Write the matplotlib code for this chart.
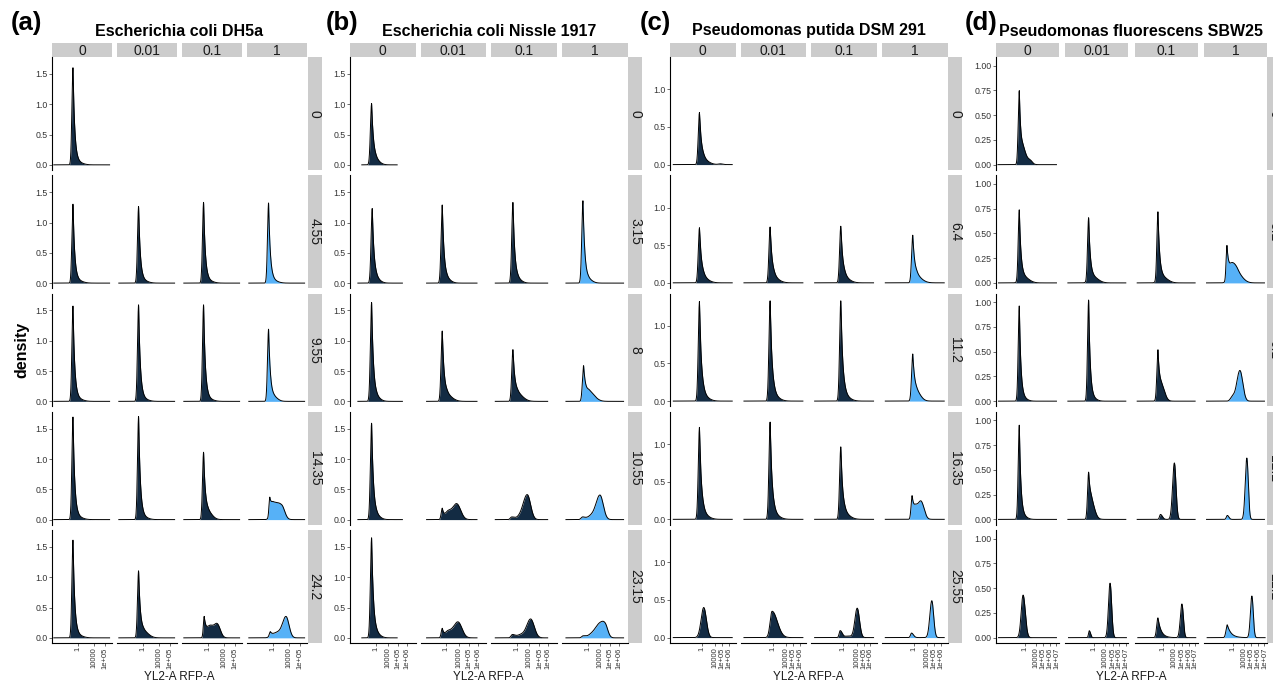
import numpy as np
import matplotlib
matplotlib.use("Agg")
import matplotlib.pyplot as plt

plt.rcParams['font.family'] = ['Liberation Sans', 'DejaVu Sans']

# facet labels
col_labels = ['0', '0.01', '0.1', '1']
rows_a = ['0', '4.55', '9.55', '14.35', '24.2']
rows_b = ['0', '3.15', '8', '10.55', '23.15']
rows_c = ['0', '6.4', '11.2', '16.35', '25.55']
rows_d = ['0', '5.2', '9.1', '12.2', '22.2']

titles = ['Escherichia coli DH5a', 'Escherichia coli Nissle 1917',
          'Pseudomonas putida DSM 291', 'Pseudomonas fluorescens SBW25']
tags = ['(a)', '(b)', '(c)', '(d)']

# x axis: transformed fluorescence (0-100 across a facet), tick positions
xticks_a = [43, 70, 88]
xticks_b = [39, 58, 73.5, 87]
xticks_c = [49, 69, 80, 90]
xticks_d = [45.5, 63, 75, 85.5, 96]
xtick_labels = ['1', '10000', '1e+05', '1e+06', '1e+07']

yticks_ab = [0, 0.5, 1.0, 1.5]
yticks_c = [0, 0.5, 1.0]
yticks_d = [0, 0.25, 0.5, 0.75, 1.0]

# density curves: (row, col) -> (start, end, peaks); peak = (centre, height, left w, right w[, power])
dens_a = {
    (0, 0): (3, 96, [(35, 1.60, 1.8, 3.0, 1), (44, 0.03, 4, 8)]),
    (1, 0): (3, 96, [(35, 1.30, 1.8, 3.0, 1), (44, 0.03, 4, 8)]),
    (1, 1): (3, 96, [(36, 1.26, 1.8, 3.0, 1), (44, 0.03, 4, 8)]),
    (1, 2): (3, 96, [(36, 1.33, 1.8, 3.0, 1), (44, 0.03, 4, 8)]),
    (1, 3): (3, 96, [(36, 1.32, 1.8, 3.0, 1), (44, 0.03, 4, 8)]),
    (2, 0): (3, 96, [(35, 1.57, 1.8, 3.0, 1), (44, 0.03, 4, 8)]),
    (2, 1): (3, 96, [(36, 1.59, 1.8, 3.0, 1), (44, 0.03, 4, 8)]),
    (2, 2): (3, 96, [(36, 1.59, 1.8, 3.0, 1), (44, 0.03, 4, 8)]),
    (2, 3): (3, 96, [(36, 1.19, 1.8, 3.2, 1), (46, 0.05, 4, 6)]),
    (3, 0): (3, 96, [(35, 1.69, 1.8, 3.0, 1), (44, 0.03, 4, 8)]),
    (3, 1): (3, 96, [(36, 1.70, 1.8, 3.0, 1), (44, 0.03, 4, 8)]),
    (3, 2): (3, 96, [(36, 1.10, 1.8, 3.2, 1), (44, 0.10, 4, 7)]),
    (3, 3): (3, 96, [(38, 0.30, 1.4, 3.5, 1), (44, 0.20, 4, 8), (58, 0.20, 8, 5)]),
    (4, 0): (3, 96, [(35, 1.61, 1.8, 3.0, 1), (44, 0.03, 4, 8)]),
    (4, 1): (3, 96, [(36, 1.10, 1.8, 3.2, 1), (45, 0.09, 4, 8)]),
    (4, 2): (3, 96, [(37, 0.33, 1.4, 3.5, 1), (47, 0.18, 5, 6), (59, 0.21, 5, 5)]),
    (4, 3): (3, 96, [(39, 0.08, 1.8, 3.5, 1), (50, 0.08, 7, 6), (65, 0.35, 6, 5)]),
}
dens_b = {
    (0, 0): (18, 72, [(33, 1.01, 1.8, 3.2, 1), (40, 0.05, 3, 6)]),
    (1, 0): (12, 80, [(34, 1.23, 1.8, 3.0, 1), (41, 0.04, 3, 6)]),
    (1, 1): (9, 86, [(33, 1.29, 1.8, 3.0, 1), (41, 0.04, 3, 6)]),
    (1, 2): (6, 86, [(33, 1.33, 1.8, 3.0, 1), (41, 0.04, 3, 6)]),
    (1, 3): (6, 94, [(32, 1.36, 1.8, 3.0, 1), (41, 0.04, 3, 6)]),
    (2, 0): (12, 80, [(33, 1.63, 1.8, 3.0, 1), (41, 0.04, 3, 6)]),
    (2, 1): (9, 86, [(33, 1.16, 1.8, 3.2, 1), (41, 0.08, 3, 8)]),
    (2, 2): (6, 86, [(33, 0.84, 1.8, 3.4, 1), (41, 0.10, 4, 8)]),
    (2, 3): (6, 94, [(33, 0.58, 1.8, 3.6, 1), (42, 0.14, 4, 8)]),
    (3, 0): (12, 80, [(33, 1.59, 1.8, 3.0, 1), (41, 0.04, 3, 6)]),
    (3, 1): (9, 86, [(33, 0.18, 1.6, 3, 1), (42, 0.12, 4, 5), (55, 0.26, 6, 6)]),
    (3, 2): (6, 86, [(31, 0.04, 2, 4), (45, 0.05, 6, 6), (55, 0.40, 6, 5)]),
    (3, 3): (6, 94, [(31, 0.04, 2, 4), (45, 0.06, 6, 6), (58, 0.40, 6, 5)]),
    (4, 0): (18, 72, [(33, 1.65, 1.8, 3.0, 1), (41, 0.04, 3, 6)]),
    (4, 1): (9, 86, [(33, 0.15, 1.6, 3, 1), (42, 0.10, 4, 6), (57, 0.26, 6.5, 6)]),
    (4, 2): (6, 86, [(32, 0.05, 2, 4), (45, 0.05, 6, 6), (60, 0.31, 6, 5.5)]),
    (4, 3): (6, 94, [(32, 0.03, 2, 4), (46, 0.06, 6, 6), (57, 0.20, 6, 6), (66, 0.18, 5, 4)]),
}
dens_c = {
    (0, 0): (5, 95, [(45, 0.69, 1.8, 3.5, 1), (52, 0.04, 3, 8), (77, 0.01, 3, 3)]),
    (1, 0): (5, 95, [(45, 0.73, 1.8, 3.5, 1), (52, 0.04, 3, 8)]),
    (1, 1): (5, 95, [(45, 0.74, 1.8, 3.5, 1), (52, 0.04, 3, 8)]),
    (1, 2): (5, 95, [(45, 0.75, 1.8, 3.5, 1), (52, 0.04, 3, 8)]),
    (1, 3): (5, 95, [(47, 0.63, 1.8, 3.5, 1), (54, 0.06, 3, 8)]),
    (2, 0): (5, 95, [(45, 1.32, 1.8, 3.2, 1), (52, 0.04, 3, 8)]),
    (2, 1): (5, 95, [(45, 1.33, 1.8, 3.2, 1), (52, 0.04, 3, 8)]),
    (2, 2): (5, 95, [(45, 1.33, 1.8, 3.2, 1), (52, 0.04, 3, 8)]),
    (2, 3): (5, 95, [(47, 0.61, 1.8, 3.5, 1), (54, 0.08, 4, 6)]),
    (3, 0): (5, 95, [(45, 1.22, 1.8, 3.2, 1), (52, 0.04, 3, 8)]),
    (3, 1): (5, 95, [(45, 1.29, 1.8, 3.2, 1), (52, 0.04, 3, 8)]),
    (3, 2): (5, 95, [(45, 0.96, 1.8, 3.2, 1), (52, 0.05, 3, 8)]),
    (3, 3): (5, 95, [(46, 0.30, 1.6, 3.5, 1), (52, 0.12, 3, 4), (60, 0.22, 4, 4.5)]),
    (4, 0): (5, 95, [(51.5, 0.40, 4, 4)]),
    (4, 1): (5, 95, [(48, 0.35, 3, 8)]),
    (4, 2): (5, 95, [(44, 0.09, 1.5, 3), (56, 0.02, 6, 6), (70, 0.39, 3.5, 3.5)]),
    (4, 3): (5, 95, [(45, 0.06, 1.5, 3), (76, 0.49, 3, 2.8)]),
}
dens_d = {
    (0, 0): (3, 96, [(37, 0.73, 1.7, 2.6, 1), (43, 0.12, 3, 4), (53, 0.05, 6, 4)]),
    (1, 0): (4, 96, [(37, 0.72, 1.7, 2.8, 1), (45, 0.05, 6, 8)]),
    (1, 1): (4, 96, [(37, 0.64, 1.7, 2.8, 1), (45, 0.05, 6, 8)]),
    (1, 2): (4, 96, [(37, 0.70, 1.7, 2.8, 1), (45, 0.05, 6, 8)]),
    (1, 3): (4, 96, [(36.5, 0.34, 1.4, 3, 1), (45, 0.17, 5, 6), (54, 0.08, 5, 8)]),
    (2, 0): (4, 96, [(37, 0.96, 1.7, 2.6, 1), (44, 0.02, 4, 6)]),
    (2, 1): (4, 96, [(37, 1.02, 1.7, 2.6, 1), (44, 0.02, 4, 6)]),
    (2, 2): (4, 96, [(37, 0.48, 1.7, 2.8, 1), (43, 0.13, 4, 5)]),
    (2, 3): (4, 96, [(45, 0.04, 3, 3), (57, 0.31, 5, 4.5)]),
    (3, 0): (4, 96, [(37, 0.95, 1.7, 2.6, 1), (44, 0.02, 4, 6)]),
    (3, 1): (4, 96, [(37, 0.45, 1.7, 3.5, 1), (42, 0.12, 3, 5)]),
    (3, 2): (4, 96, [(41, 0.05, 1.5, 3), (63, 0.57, 2.8, 2.6)]),
    (3, 3): (4, 96, [(37, 0.04, 1.5, 2.5), (68, 0.62, 2.5, 2.3)]),
    (4, 0): (4, 96, [(43, 0.43, 3, 3.5)]),
    (4, 1): (5, 97, [(38, 0.07, 1.2, 2), (71, 0.55, 2.5, 2.5)]),
    (4, 2): (5, 97, [(37, 0.20, 2, 5, 1), (75, 0.34, 2.5, 2.3)]),
    (4, 3): (5, 97, [(37, 0.13, 2, 6, 1), (76, 0.42, 2.3, 2.2)]),
}

DARK = '#132B43'
LIGHT = '#56B1F7'
STRIP = '#CCCCCC'

W, H = 1273, 685
fig = plt.figure(figsize=(W / 100, H / 100), dpi=100)


def px_axes(x0, y0, w, h):
    return fig.add_axes([x0 / W, 1 - (y0 + h) / H, w / W, h / H])


def curve(x, peaks):
    y = np.zeros_like(x)
    for pk in peaks:
        c, h, wl, wr = pk[:4]
        p = pk[4] if len(pk) > 4 else 2
        d = x - c
        left = np.exp(-0.5 * (d / wl) ** 2)
        right = np.exp(-np.abs(d / wr) ** p / p)
        y += h * np.where(d < 0, left, right)
    return y


panels = [
    dict(left=52, step=65, width=60, rows=rows_a, dens=dens_a, xt=xticks_a,
         yt=yticks_ab, yfmt='%.1f', ylim=(-0.085, 1.78)),
    dict(left=350, step=70.67, width=65.5, rows=rows_b, dens=dens_b, xt=xticks_b,
         yt=yticks_ab, yfmt='%.1f', ylim=(-0.085, 1.78)),
    dict(left=670, step=70.67, width=65.5, rows=rows_c, dens=dens_c, xt=xticks_c,
         yt=yticks_c, yfmt='%.1f', ylim=(-0.072, 1.43)),
    dict(left=996, step=69.33, width=63, rows=rows_d, dens=dens_d, xt=xticks_d,
         yt=yticks_d, yfmt='%.2f', ylim=(-0.054, 1.087)),
]
tag_x = [26, 342, 655, 981]

row_top0, row_step, row_h, strip_h = 57, 118.25, 113, 14

for k, pn in enumerate(panels):
    lefts = [pn['left'] + j * pn['step'] for j in range(4)]
    right_edge = lefts[-1] + pn['width']
    # top strips
    for j, lab in enumerate(col_labels):
        sa = px_axes(lefts[j], row_top0 - strip_h, pn['width'], strip_h)
        sa.set_facecolor(STRIP)
        sa.set_xticks([]); sa.set_yticks([])
        for s in sa.spines.values():
            s.set_visible(False)
        sa.text(0.5, 0.45, lab, ha='center', va='center', fontsize=10, color='#1A1A1A',
                transform=sa.transAxes)
    for i, rlab in enumerate(pn['rows']):
        top = row_top0 + i * row_step
        # row strip (panel d's runs past the right edge, as in the original)
        ra = px_axes(right_edge + 0.5, top, strip_h, row_h)
        ra.set_facecolor(STRIP)
        ra.set_xticks([]); ra.set_yticks([])
        for s in ra.spines.values():
            s.set_visible(False)
        ra.text(0.5, 0.5, rlab, ha='center', va='center', rotation=270, fontsize=10,
                color='#1A1A1A', transform=ra.transAxes)
        for j in range(4):
            ax = px_axes(lefts[j], top, pn['width'], row_h)
            ax.set_xlim(0, 100)
            ax.set_ylim(*pn['ylim'])
            ax.patch.set_alpha(0)
            for s in ax.spines.values():
                s.set_visible(False)
            ax.tick_params(length=2, width=0.5, color='#333333', labelcolor='#333333', pad=1)
            if j == 0:
                ax.spines['left'].set_visible(True)
                ax.spines['left'].set_linewidth(0.8)
                ax.set_yticks(pn['yt'])
                ax.set_yticklabels([pn['yfmt'] % v for v in pn['yt']], fontsize=6.3)
            else:
                ax.set_yticks([])
            if i == len(pn['rows']) - 1:
                ax.spines['bottom'].set_visible(True)
                ax.spines['bottom'].set_linewidth(0.8)
                ax.set_xticks(pn['xt'])
                ax.set_xticklabels(xtick_labels[:len(pn['xt'])], rotation=90, fontsize=5.5)
            else:
                ax.set_xticks([])
            if (i, j) in pn['dens']:
                s0, s1, peaks = pn['dens'][(i, j)]
                x = np.linspace(s0, s1, 600)
                y = curve(x, peaks)
                fill = LIGHT if j == 3 else DARK
                ax.fill_between(x, 0, y, color=fill, lw=0)
                ax.plot(x, y, color='black', lw=0.7)
    cx = (lefts[0] + right_edge) / 2
    fig.text(cx / W, 1 - 31 / H, titles[k], ha='center', va='center',
             fontsize=11.5, fontweight='bold')
    fig.text(tag_x[k] / W, 1 - 23 / H, tags[k], ha='center', va='center',
             fontsize=18.5, fontweight='bold')
    fig.text(cx / W, 1 - 677 / H, 'YL2-A RFP-A', ha='center', va='center',
             fontsize=8.5, color='#1A1A1A')

fig.text(22 / W, 1 - 350 / H, 'density', rotation=90, ha='center', va='center',
         fontsize=11.5, fontweight='bold')

fig.savefig('out.png', dpi=100)
